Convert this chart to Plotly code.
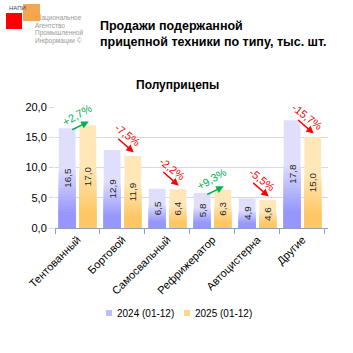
import plotly.graph_objects as go

categories = ["Тентованный", "Бортовой", "Самосвальный", "Рефрижератор", "Автоцистерна", "Другие"]
values_2024 = [16.5, 12.9, 6.5, 5.8, 4.9, 17.8]
values_2025 = [17.0, 11.9, 6.4, 6.3, 4.6, 15.0]
change_labels = ["+2,7%", "-7,5%", "-2,2%", "+9,3%", "-5,5%", "-15,7%"]
series_names = ["2024 (01-12)", "2025 (01-12)"]
y_ticks = [0, 5, 10, 15, 20]

W, H = 353, 353
L, R, T, B = 55, 25, 107, 125
PW, PH = W - L - R, H - T - B
FONT = "Liberation Sans, Arial, sans-serif"


def px2x(px):
    return (px - L) / PW


def px2y(py):
    return (H - B - py) / PH


def lerp(c1, c2, t):
    return "rgb(%d,%d,%d)" % tuple(round(a + (b - a) * t) for a, b in zip(c1, c2))


light = [(223, 223, 252), (255, 231, 184)]
dark = [(150, 150, 252), (255, 199, 100)]
legend_cols = ["#bcbcf8", "#fdd68a"]
fracs = [0.58 - 0.03 * k for k in range(15)]

fig = go.Figure()
series = [values_2024, values_2025]
groups = ["a", "b"]

# base bars (light top colour)
for s, vals in enumerate(series):
    fig.add_trace(go.Bar(
        x=categories, y=vals, name=series_names[s], offsetgroup=groups[s],
        marker=dict(color=lerp(light[s], dark[s], 0.0), line=dict(width=0)),
        showlegend=False, hoverinfo="skip",
    ))
# gradient overlays
for s, vals in enumerate(series):
    n = len(fracs)
    for k, f in enumerate(fracs):
        fig.add_trace(go.Bar(
            x=categories, y=[v * f for v in vals], offsetgroup=groups[s],
            marker=dict(color=lerp(light[s], dark[s], (k + 1) / n), line=dict(width=0)),
            showlegend=False, hoverinfo="skip",
        ))
# value labels
for s, vals in enumerate(series):
    fig.add_trace(go.Bar(
        x=categories, y=vals, offsetgroup=groups[s],
        marker=dict(color="rgba(0,0,0,0)", line=dict(width=0)),
        text=[f"{v:.1f}".replace(".", ",") for v in vals],
        textposition="inside", insidetextanchor="middle", textangle=-90,
        textfont=dict(size=11, color="#262626", family=FONT),
        showlegend=False, hoverinfo="skip", cliponaxis=False,
    ))

annotations = []
for i, (v1, v2, lab) in enumerate(zip(values_2024, values_2025, change_labels)):
    up = v2 >= v1
    col = "#00b050" if up else "#ff0000"
    hx = i + 0.25
    hy = v2 + 0.6
    annotations.append(dict(
        x=hx, y=hy, xref="x", yref="y", text="", showarrow=True,
        ax=-18 if up else -17, ay=9 if up else -15,
        arrowhead=2, arrowsize=1, arrowwidth=1.5, arrowcolor=col, standoff=0,
    ))
    annotations.append(dict(
        x=hx, y=hy, xref="x", yref="y", text=lab, showarrow=False,
        xshift=-12 if up else -6, yshift=7 if up else 17,
        textangle=-30 if up else 38,
        font=dict(size=11, color=col, family=FONT),
    ))

# titles
annotations.append(dict(
    x=px2x(98), y=px2y(34), xref="paper", yref="paper", xanchor="left", yanchor="middle",
    text="<b>Продажи подержанной<br>прицепной техники по типу, тыс. шт.</b>",
    showarrow=False, align="left", font=dict(size=12.5, color="#000000", family=FONT),
))
annotations.append(dict(
    x=px2x(177), y=px2y(85), xref="paper", yref="paper", xanchor="center", yanchor="middle",
    text="<b>Полуприцепы</b>", showarrow=False,
    font=dict(size=12, color="#000000", family=FONT),
))

# legend (small squares + labels)
legend_sq_x = [106, 184]
shapes = []
for s in range(2):
    sx = legend_sq_x[s]
    shapes.append(dict(type="rect", xref="paper", yref="paper",
                       x0=px2x(sx), x1=px2x(sx + 6), y0=px2y(316), y1=px2y(310),
                       fillcolor=legend_cols[s], line=dict(width=0)))
    annotations.append(dict(
        x=px2x(sx + 9), y=px2y(313), xref="paper", yref="paper", xanchor="left", yanchor="middle",
        text=series_names[s], showarrow=False,
        font=dict(size=10, color="#000000", family=FONT),
    ))

# logo texts
annotations.append(dict(
    x=px2x(7), y=px2y(8), xref="paper", yref="paper", xanchor="left", yanchor="middle",
    text="НАПИ", showarrow=False, font=dict(size=6, color="#3b4a6b", family=FONT),
))
logo_lines = ["<span style='color:#f39a3a;font-size:9px'>Н</span>ациональное", "Агентство", "Промышленной", "Информации ©"]
logo_y = [17, 25, 33, 41]
for line, ly in zip(logo_lines, logo_y):
    annotations.append(dict(
        x=px2x(33), y=px2y(ly), xref="paper", yref="paper", xanchor="left", yanchor="middle",
        text=line, showarrow=False, font=dict(size=6.5, color="#9a9a9a", family=FONT),
    ))

shapes += [
    dict(type="rect", xref="paper", yref="paper", x0=px2x(6), x1=px2x(22), y0=px2y(29), y1=px2y(13),
         fillcolor="#ff0000", line=dict(width=0), layer="above"),
    dict(type="rect", xref="paper", yref="paper", x0=px2x(23), x1=px2x(40), y0=px2y(21), y1=px2y(4),
         fillcolor="rgba(243,150,50,0.85)", line=dict(width=0), layer="below"),
]

fig.update_layout(
    width=W, height=H,
    margin=dict(l=L, r=R, t=T, b=B, pad=0),
    paper_bgcolor="white", plot_bgcolor="white",
    barmode="group", bargap=0.08, bargroupgap=0.19,
    separators=", ",
    font=dict(family=FONT, size=11, color="#000000"),
    showlegend=False,
    annotations=annotations,
    shapes=shapes,
    xaxis=dict(type="category", tickson="boundaries", ticks="outside", ticklen=5,
               tickcolor="#8fa2bd", showline=True, linecolor="#8fa2bd", linewidth=1,
               tickangle=-45, tickfont=dict(size=11, color="#000000", family=FONT),
               showgrid=False, fixedrange=True),
    yaxis=dict(range=[0, 20], tickvals=y_ticks, tickformat=".1f", showgrid=True,
               gridcolor="#d9d9d9", gridwidth=1, zeroline=False, showline=False,
               ticks="outside", ticklen=5, tickcolor="#d9d9d9",
               tickfont=dict(size=11, color="#000000", family=FONT), fixedrange=True),
)

fig.write_html("out.html")
